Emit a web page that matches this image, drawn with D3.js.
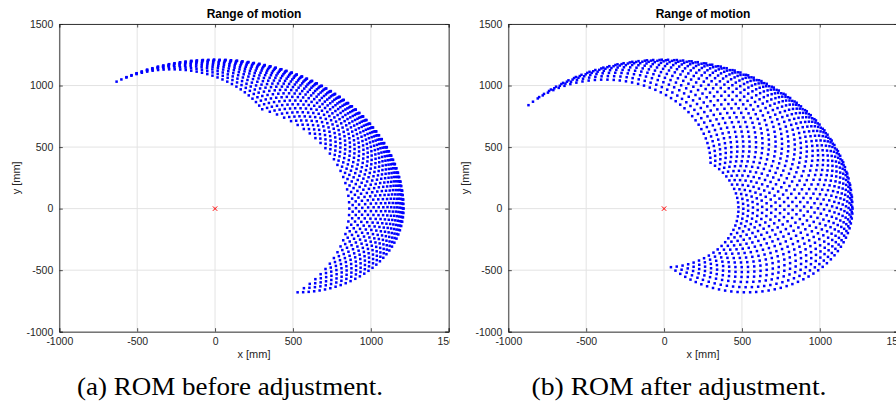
<!DOCTYPE html>
<html>
<head>
<meta charset="utf-8">
<script src="https://cdn.jsdelivr.net/npm/d3@7"></script>
<style>
  body { margin: 0; background: #fff; }
  svg { display: block; }
</style>
</head>
<body>
<div id="chart"></div>
<script>
// link lengths of the arm [mm]
var upperArm = 530;
var foreArm = 680;

// sampled joint angles [deg], before adjustment
var shoulderBefore = [0, 3.5, 6.9, 10.4, 13.9, 17.4, 20.8, 24.3, 27.8, 31.2, 34.7, 38.2,
  41.7, 45.1, 48.6, 52.1, 55.5, 59.0, 62.5, 66.0, 69.4, 72.9, 76.4, 79.8, 83.3, 86.8,
  90.3, 93.7, 97.2, 100.7, 104.1, 107.6, 111.1, 114.6, 118.0, 121.5];
var elbowBefore = [0, -3, -6, -9, -12, -15, -18, -21, -24, -27, -30, -33, -36, -39, -42,
  -45, -48, -51, -54, -57, -60, -63, -66, -69, -72, -75, -78, -81, -84, -87, -90];

// sampled joint angles [deg], after adjustment
var shoulderAfter = [0, 4.5, 9.1, 13.6, 18.1, 22.7, 27.2, 31.7, 36.3, 40.8, 45.3, 49.9,
  54.4, 58.9, 63.5, 68.0, 72.5, 77.1, 81.6, 86.1, 90.7, 95.2, 99.7, 104.3, 108.8, 113.3,
  117.9, 122.4, 126.9, 131.5, 136.0];
var elbowAfter = [0, -3.4, -6.8, -10.2, -13.6, -17.0, -20.3, -23.7, -27.1, -30.5, -33.9,
  -37.3, -40.7, -44.1, -47.5, -50.9, -54.2, -57.6, -61.0, -64.4, -67.8, -71.2, -74.6,
  -78.0, -81.4, -84.8, -88.1, -91.5, -94.9, -98.3, -101.7, -105.1, -108.5, -111.9,
  -115.3, -118.7, -122.0, -125.4, -128.8, -132.2, -135.6];

var xTicks = [-1000, -500, 0, 500, 1000, 1500];
var yTicks = [-1000, -500, 0, 500, 1000, 1500];
var xDomain = [-1000, 1500];
var yDomain = [-1000, 1500];
var base = [0, 0]; // shoulder position, drawn as red x

var titleText = 'Range of motion';
var xLabel = 'x [mm]';
var yLabel = 'y [mm]';
var captionA = '(a) ROM before adjustment.';
var captionB = '(b) ROM after adjustment.';

(function() {

  init();

  function reach(shoulder, elbow) {
    var pts = [];
    shoulder.forEach(function(a) {
      elbow.forEach(function(b) {
        var t1 = a * Math.PI / 180, t12 = (a + b) * Math.PI / 180;
        pts.push([upperArm * Math.cos(t1) + foreArm * Math.cos(t12),
                  upperArm * Math.sin(t1) + foreArm * Math.sin(t12)]);
      });
    });
    return pts;
  }

  function panel(svg, offset, id, points, caption, capWidth) {
    var left = 59.3, right = 448.7, top = 24, bottom = 331.7;
    var dot = 2.5;

    svg.append('clipPath').attr('id', id)
      .append('rect').attr('x', 0).attr('y', 0).attr('width', 450).attr('height', 403);

    var g = svg.append('g')
      .attr('transform', 'translate(' + offset + ',0)')
      .attr('clip-path', 'url(#' + id + ')');

    var x = d3.scaleLinear().domain(xDomain).range([left, right]);
    var y = d3.scaleLinear().domain(yDomain).range([bottom, top]);

    // grid
    g.append('g').selectAll('line').data(xTicks).enter().append('line')
      .attr('x1', function(d) { return x(d); }).attr('x2', function(d) { return x(d); })
      .attr('y1', top).attr('y2', bottom)
      .attr('stroke', '#e3e3e3').attr('stroke-width', 1);
    g.append('g').selectAll('line').data(yTicks).enter().append('line')
      .attr('y1', function(d) { return y(d); }).attr('y2', function(d) { return y(d); })
      .attr('x1', left).attr('x2', right)
      .attr('stroke', '#e3e3e3').attr('stroke-width', 1);

    // reachable points
    g.append('g').selectAll('rect').data(points).enter().append('rect')
      .attr('x', function(d) { return x(d[0]) - dot / 2; })
      .attr('y', function(d) { return y(d[1]) - dot / 2; })
      .attr('width', dot).attr('height', dot)
      .attr('fill', '#0000ff');

    // base marker
    var bx = x(base[0]), by = y(base[1]);
    g.append('path')
      .attr('d', 'M' + (bx - 2.2) + ',' + (by - 2.2) + 'L' + (bx + 2.2) + ',' + (by + 2.2) +
                 'M' + (bx - 2.2) + ',' + (by + 2.2) + 'L' + (bx + 2.2) + ',' + (by - 2.2))
      .attr('stroke', '#ff0000').attr('stroke-width', 1);

    // axes, MATLAB style: ticks inward on all four sides
    var font = '"Liberation Sans", Arial, sans-serif';
    var fmt = function(d) { return String(d); };
    var axB = g.append('g').attr('transform', 'translate(0,' + bottom + ')')
      .call(d3.axisBottom(x).tickValues(xTicks).tickSize(-3.5).tickPadding(6).tickFormat(fmt));
    var axT = g.append('g').attr('transform', 'translate(0,' + top + ')')
      .call(d3.axisTop(x).tickValues(xTicks).tickSize(-3.5).tickFormat(''));
    var axL = g.append('g').attr('transform', 'translate(' + left + ',0)')
      .call(d3.axisLeft(y).tickValues(yTicks).tickSize(-3.5).tickPadding(6).tickFormat(fmt));
    var axR = g.append('g').attr('transform', 'translate(' + right + ',0)')
      .call(d3.axisRight(y).tickValues(yTicks).tickSize(-3.5).tickFormat(''));
    [axB, axT, axL, axR].forEach(function(a) {
      a.selectAll('path').attr('stroke', '#262626').attr('stroke-width', 0.9);
      a.selectAll('line').attr('stroke', '#262626').attr('stroke-width', 0.8);
      a.selectAll('text').attr('fill', '#262626').style('font-family', font).style('font-size', '10.5px');
    });
    axB.selectAll('text').attr('dy', '0.71em');

    g.append('text')
      .attr('x', (left + right) / 2).attr('y', 18)
      .attr('text-anchor', 'middle')
      .style('font-family', font).style('font-size', '12px').style('font-weight', 'bold')
      .attr('fill', '#000')
      .text(titleText);

    g.append('text')
      .attr('x', (left + right) / 2).attr('y', 358)
      .attr('text-anchor', 'middle')
      .style('font-family', font).style('font-size', '11px')
      .attr('fill', '#262626')
      .text(xLabel);

    g.append('text')
      .attr('transform', 'translate(20,' + ((top + bottom) / 2) + ') rotate(-90)')
      .attr('text-anchor', 'middle')
      .style('font-family', font).style('font-size', '11px')
      .attr('fill', '#262626')
      .text(yLabel);

    g.append('text')
      .attr('x', 230 - capWidth / 2).attr('y', 395)
      .attr('textLength', capWidth).attr('lengthAdjust', 'spacingAndGlyphs')
      .style('font-family', '"Liberation Serif", "Times New Roman", serif').style('font-size', '25px')
      .attr('fill', '#000')
      .text(caption);
  }

  function init() {
    var width = 896;
    var height = 403;

    var svg = d3.select('#chart')
      .append('svg')
      .attr('width', width)
      .attr('height', height);

    panel(svg, 0, 'clipA', reach(shoulderBefore, elbowBefore), captionA, 306);
    panel(svg, 449, 'clipB', reach(shoulderAfter, elbowAfter), captionB, 295);
  }

})();
</script>
</body>
</html>
